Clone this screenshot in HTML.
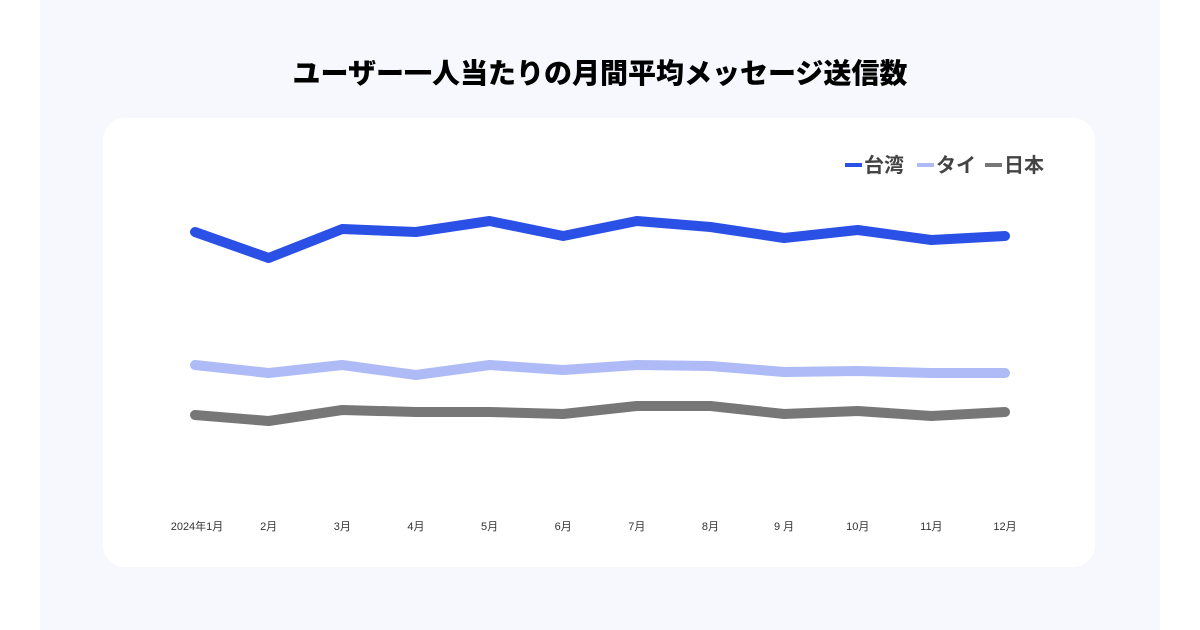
<!DOCTYPE html>
<html><head><meta charset="utf-8">
<style>
html,body{margin:0;padding:0;width:1200px;height:630px;background:#fff;overflow:hidden;font-family:"Liberation Sans","Noto Sans CJK JP",sans-serif;}
#bg{position:absolute;left:40px;top:0;width:1120px;height:630px;background:#f7f8fe;}
#title{position:absolute;left:0;top:52px;width:1200px;text-align:center;font-size:28px;font-weight:900;color:#000;letter-spacing:0px;}
#card{position:absolute;left:103px;top:118px;width:992px;height:449px;background:#fff;border-radius:22px;}
svg{position:absolute;left:0;top:0;}
</style></head><body>
<div id="bg"></div>
<div id="title">ユーザー一人当たりの月間平均メッセージ送信数</div>
<div id="card"></div>
<svg id="chart" width="1200" height="630"></svg>
<script>
const categories=["2024年1月","2月","3月","4月","5月","6月","7月","8月","9 月","10月","11月","12月"];
const taiwan=[268,242,271,268,279,264,279,273,262,270,260,264];
const thai=[135,127,135,125,135,130,135,134,128,129,127,127];
const japan=[85,79,90,88,88,86,94,94,86,89,84,88];
const seriesNames=["台湾","タイ","日本"];
const NS="http://www.w3.org/2000/svg";
const svg=document.getElementById('chart');
const x0=195,x1=1005,yBase=500;
function xs(i){return x0+(x1-x0)*i/(categories.length-1);}
function ys(v){return yBase-v;}
function mk(t,a){const e=document.createElementNS(NS,t);for(const k in a)e.setAttribute(k,a[k]);svg.appendChild(e);return e;}
const series=[[taiwan,"#2a50e6"],[thai,"#aebbf6"],[japan,"#777777"]];
series.forEach((s,si)=>{
 const d=s[0].map((v,i)=>(i?'L':'M')+xs(i)+' '+ys(v)).join(' ');
 const p=mk('path',{d:d,fill:'none',stroke:s[1],'stroke-width':10,'stroke-linejoin':'round','stroke-linecap':'round'});
 
 
});
categories.forEach((c,i)=>{
 const t=mk('text',{x:xs(i)+(i==0?2:0),y:530,'text-anchor':'middle','font-size':11,fill:'#333'});
 t.textContent=c;
 
 
});
const legX=[845,917,985];
seriesNames.forEach((n,i)=>{
 const r=mk('rect',{x:legX[i],y:163,width:17,height:4,fill:series[i][1]});
 
 
 const t=mk('text',{x:legX[i]+19,y:172,'font-size':20,'font-weight':'bold',fill:'#444'});
 t.textContent=n;
 
 
});
</script>
</body></html>
